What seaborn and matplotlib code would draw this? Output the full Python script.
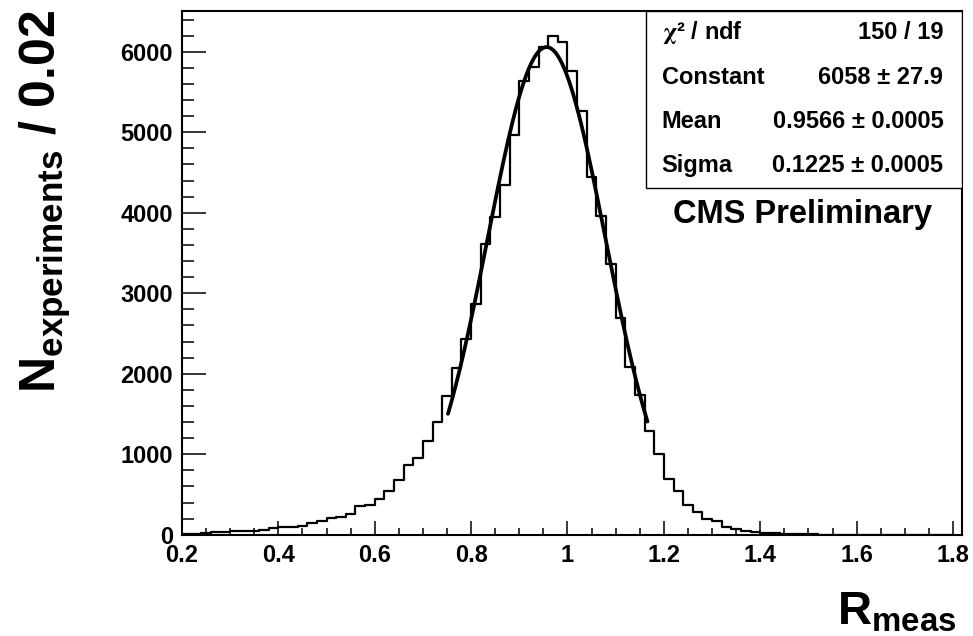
import numpy as np
import pandas as pd
import matplotlib
matplotlib.use("Agg")
import matplotlib.pyplot as plt
import seaborn as sns
from matplotlib.ticker import MultipleLocator, FixedLocator, FixedFormatter
from matplotlib.patches import Rectangle

# ---------------- data ----------------
bin_start = 0.2
bin_end = 1.8
bin_width = 0.02
counts = [10, 12, 15, 35, 38, 40, 42, 45, 62, 80,
          90, 95, 108, 145, 170, 205, 220, 258, 358, 375,
          445, 537, 675, 867, 950, 1163, 1404, 1729, 2070, 2430,
          2860, 3610, 3945, 4350, 4970, 5635, 5810, 6055, 6190, 6120,
          5760, 5260, 4450, 3960, 3360, 2690, 2080, 1730, 1284, 1006,
          696, 542, 373, 282, 190, 166, 95, 75, 45, 29,
          25, 16, 10, 6, 4, 8, 2, 2, 1, 1,
          0, 0, 0, 0, 0, 0, 0, 0, 0, 0]

fit_constant = 6058
fit_mean = 0.9566
fit_sigma = 0.1225
fit_lo, fit_hi = 0.752, 1.166

stats_labels = [r"$\chi$² / ndf", "Constant", "Mean", "Sigma"]
stats_values = ["150 / 19", "6058 ± 27.9", "0.9566 ± 0.0005", "0.1225 ± 0.0005"]

xticks = [0.2, 0.4, 0.6, 0.8, 1.0, 1.2, 1.4, 1.6, 1.8]
xtick_labels = ["0.2", "0.4", "0.6", "0.8", "1", "1.2", "1.4", "1.6", "1.8"]
yticks = [0, 1000, 2000, 3000, 4000, 5000, 6000]
ytick_labels = ["0", "1000", "2000", "3000", "4000", "5000", "6000"]

xlabel_text = r"$R_{meas}$"
ylabel_text = r"$N_{experiments}$ / 0.02"
cms_text = "CMS Preliminary"

# ---------------- style ----------------
sns.set_style("ticks")
plt.rcParams["font.family"] = ["Liberation Sans", "DejaVu Sans"]
plt.rcParams["font.weight"] = "bold"
plt.rcParams["mathtext.fontset"] = "custom"
plt.rcParams["mathtext.rm"] = "Liberation Sans:bold"
plt.rcParams["mathtext.bf"] = "Liberation Sans:bold"
plt.rcParams["mathtext.it"] = "Liberation Sans:bold"
plt.rcParams["mathtext.default"] = "rm"
for key in ["text.color", "axes.labelcolor", "xtick.color", "ytick.color",
            "xtick.labelcolor", "ytick.labelcolor", "axes.edgecolor"]:
    plt.rcParams[key] = "black"

W, H = 973, 636
fig = plt.figure(figsize=(W / 100, H / 100), dpi=100)
fig.patch.set_facecolor("white")

ax_l, ax_r, ax_t, ax_b = 182, 962, 10.7, 534.7
ax = fig.add_axes([ax_l / W, 1 - ax_b / H, (ax_r - ax_l) / W, (ax_b - ax_t) / H])
ax.set_facecolor("white")

n_bins = len(counts)
centers = [round(bin_start + bin_width * (i + 0.5), 4) for i in range(n_bins)]
df = pd.DataFrame({"R": centers, "N": counts})

sns.histplot(data=df, x="R", weights="N", binwidth=bin_width,
             binrange=(bin_start, bin_end), element="step",
             fill=False, color="black", linewidth=1.6, ax=ax)

xf = np.linspace(fit_lo, fit_hi, 300)
yf = fit_constant * np.exp(-0.5 * ((xf - fit_mean) / fit_sigma) ** 2)
sns.lineplot(x=xf, y=yf, color="black", linewidth=2.7, ax=ax)

ax.set_xlim(0.2, 1.8187)
ax.set_ylim(0, 6510)
ax.set_xlabel("")
ax.set_ylabel("")

ax.xaxis.set_major_locator(FixedLocator(xticks))
ax.xaxis.set_major_formatter(FixedFormatter(xtick_labels))
ax.xaxis.set_minor_locator(MultipleLocator(0.05))
ax.yaxis.set_major_locator(FixedLocator(yticks))
ax.yaxis.set_major_formatter(FixedFormatter(ytick_labels))
ax.yaxis.set_minor_locator(MultipleLocator(200))

ax.tick_params(which="both", direction="in", top=False, right=False,
               colors="black", labelcolor="black")
ax.tick_params(axis="y", which="major", length=17, width=1.1, labelsize=17, pad=6.5)
ax.tick_params(axis="y", which="minor", length=8.6, width=1.1)
ax.tick_params(axis="x", which="major", length=10, width=1.1, labelsize=17, pad=6.5)
ax.tick_params(axis="x", which="minor", length=5, width=1.1)
for lab in ax.get_xticklabels() + ax.get_yticklabels():
    lab.set_fontweight("bold")
    lab.set_color("black")
for s in ax.spines.values():
    s.set_linewidth(1.5)
    s.set_color("black")
    s.set_visible(True)

# stats box
bx0 = (646 - ax_l) / (ax_r - ax_l)
by0 = (ax_b - 187.5) / (ax_b - ax_t)
ax.add_patch(Rectangle((bx0, by0), 1 - bx0, 1 - by0, transform=ax.transAxes,
                       facecolor="white", edgecolor="black", linewidth=1.0, zorder=5))
row_px = [32.8, 77.0, 121.2, 165.4]
lab_x = (661.7 - ax_l) / (ax_r - ax_l)
val_x = (943.3 - ax_l) / (ax_r - ax_l)
for i, (lab, val) in enumerate(zip(stats_labels, stats_values)):
    yy = (ax_b - row_px[i]) / (ax_b - ax_t)
    kw = dict(math_fontfamily="stix") if i == 0 else {}
    ax.text(lab_x, yy, lab, transform=ax.transAxes, ha="left", va="center",
            fontsize=17, fontweight="bold", color="black", zorder=6, **kw)
    ax.text(val_x, yy, val, transform=ax.transAxes, ha="right", va="center",
            fontsize=17, fontweight="bold", color="black", zorder=6)

ax.text((802.5 - ax_l) / (ax_r - ax_l), (ax_b - 215) / (ax_b - ax_t), cms_text,
        transform=ax.transAxes, ha="center", va="center", fontsize=23.5,
        fontweight="bold", color="black")

# axis titles
fig.text(18 / W, 1 - 10 / H, ylabel_text, rotation=90, ha="left", va="top",
         fontsize=36, fontweight="bold", color="black")
fig.text(957 / W, 1 - 634 / H, xlabel_text, ha="right", va="bottom",
         fontsize=34, fontweight="bold", color="black")

fig.savefig("out.png", dpi=100, facecolor="white")
